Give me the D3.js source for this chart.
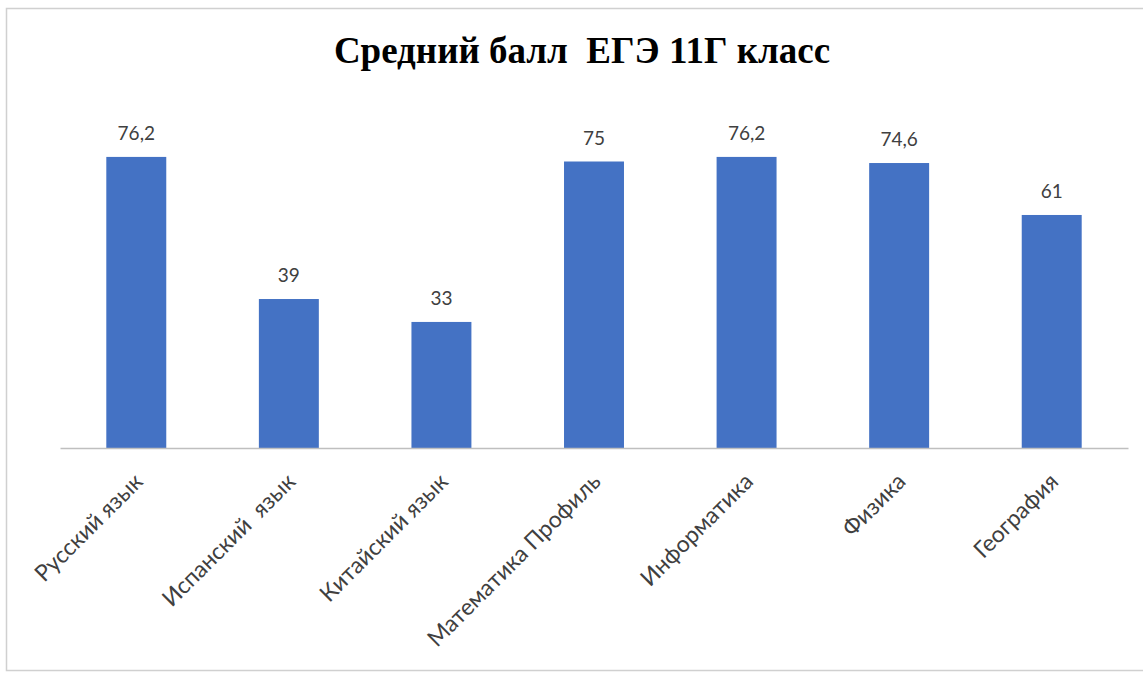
<!DOCTYPE html>
<html><head><meta charset="utf-8">
<script src="https://cdn.jsdelivr.net/npm/d3@7"></script>
<style>body{margin:0;background:#fff;}svg{display:block;} text{white-space:pre;}</style>
</head><body>
<script>
const categories = ["Русский язык","Испанский  язык","Китайский язык","Математика Профиль","Информатика","Физика","География"];
const values = [76.2, 39, 33, 75, 76.2, 74.6, 61];
const valueLabels = ["76,2","39","33","75","76,2","74,6","61"];
const title = "Средний балл  ЕГЭ 11Г класс";

const W = 1143, H = 673;
const svg = d3.select("body").append("svg").attr("width", W).attr("height", H);
svg.append("rect").attr("x",6.5).attr("y",8.5).attr("width",W).attr("height",662)
  .attr("fill","#fff").attr("stroke","#d0d0d0").attr("stroke-width",1.5);

const x = d3.scaleBand().domain(categories).range([60,1128]).paddingInner(0.607).paddingOuter(0.3035);
const y = d3.scaleLinear().domain([0,80]).range([448, 448-3.82*80]);

svg.append("text").attr("x",582).attr("y",63).attr("text-anchor","middle")
  .attr("font-family","Liberation Serif, serif").attr("font-weight","bold")
  .attr("font-size",37).attr("fill","#000").text(title);

svg.selectAll("rect.bar").data(values).join("rect").attr("class","bar")
  .attr("x",(d,i)=>x(categories[i])).attr("width",x.bandwidth())
  .attr("y",d=>y(d)).attr("height",d=>y(0)-y(d)).attr("fill","#4472C4");

svg.selectAll("text.val").data(values).join("text").attr("class","val")
  .attr("x",(d,i)=>x(categories[i])+x.bandwidth()/2).attr("y",d=>y(d)-17)
  .attr("text-anchor","middle").attr("font-family","Lato, sans-serif").attr("font-size",19)
  .attr("fill","#404040").text((d,i)=>valueLabels[i]);

const axis = svg.append("g").attr("transform","translate(0,448)")
  .call(d3.axisBottom(x).tickSize(0).tickPadding(0));
axis.select(".domain").attr("stroke","#bfbfbf").attr("stroke-width",1.5);
axis.selectAll(".tick text")
  .attr("font-family","Lato, sans-serif").attr("font-size",23).attr("fill","#404040")
  .attr("text-anchor","end").attr("dy",0)
  .attr("transform","translate(8,35) rotate(-45)");
</script>
</body></html>
